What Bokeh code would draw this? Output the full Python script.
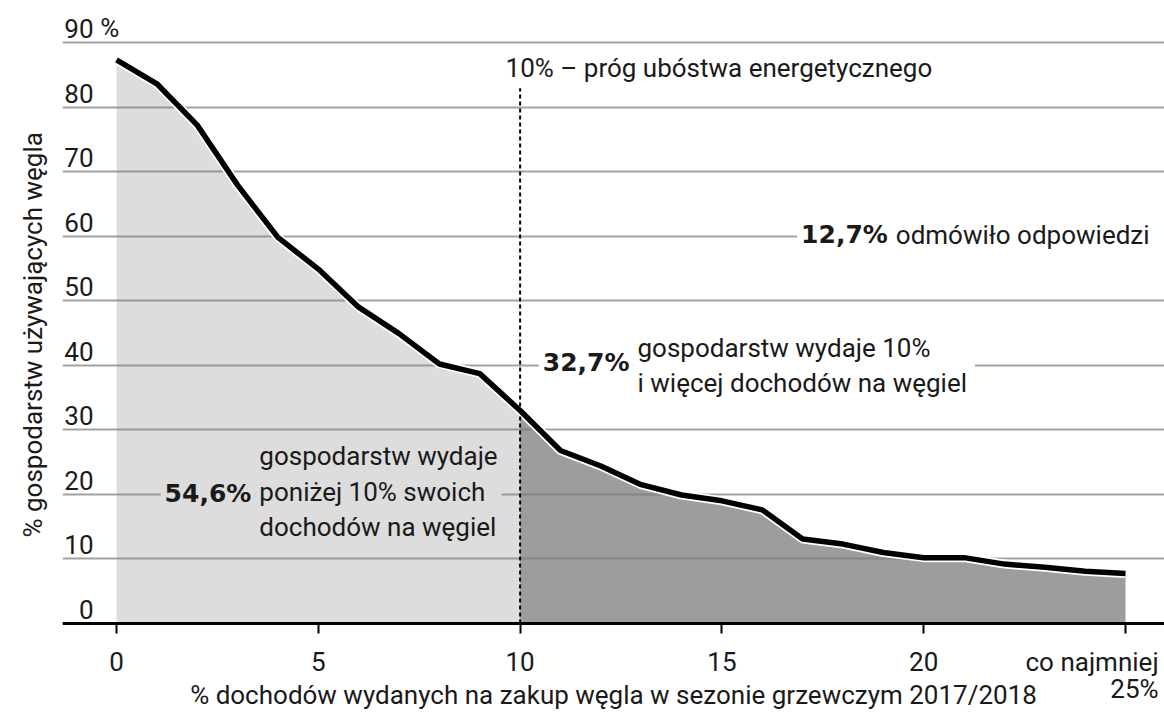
from bokeh.plotting import figure
from bokeh.models import Range1d, Label, FixedTicker, Grid, Title
from bokeh.core.properties import value
from bokeh.embed import file_html
from bokeh.resources import INLINE

# ---- data ----
share_of_income = list(range(26))  # % of income spent on coal (25 = "at least 25%")
households_pct = [87.3, 83.6, 77.2, 67.9, 59.8, 54.9, 49.0, 44.9, 40.2, 38.7,
                  33.0, 26.8, 24.4, 21.5, 19.9, 19.0, 17.6, 13.1, 12.3, 11.0,
                  10.2, 10.2, 9.2, 8.7, 8.1, 7.75]
threshold = 10
x_ticks = [0, 5, 10, 15, 20, 25]
x_tick_labels = ["0", "5", "10", "15", "20", ""]
last_tick_lines = ["co najmniej", "25%"]
y_ticks = [0, 10, 20, 30, 40, 50, 60, 70, 80, 90]
y_tick_labels = [str(v) for v in y_ticks]

FONT = "Roboto"
BOLD_FONT = "DejaVu Sans"
TXT = "#1a1a1a"
FS = "26px"

p = figure(width=1164, height=715, x_range=Range1d(-1.338, 25.966), y_range=Range1d(-14.25, 96.5),
           output_backend="svg", toolbar_location=None, y_axis_location=None,
           min_border_left=62, min_border_right=0, min_border_top=0, min_border_bottom=0)
p.outline_line_color = None
p.xgrid.visible = False
p.ygrid.visible = False

grid = Grid(dimension=1, ticker=FixedTicker(ticks=y_ticks), grid_line_color="#7a7a7a",
            grid_line_alpha=0.7, grid_line_width=2)
p.add_layout(grid)

below_i = [i for i, x in enumerate(share_of_income) if x <= threshold]
above_i = [i for i, x in enumerate(share_of_income) if x >= threshold]
p.varea(x=[share_of_income[i] for i in below_i], y1=0, y2=[households_pct[i] for i in below_i],
        fill_color="#dddddd", level="image")
p.varea(x=[share_of_income[i] for i in above_i], y1=0, y2=[households_pct[i] for i in above_i],
        fill_color="#9d9d9d", level="image")

p.line(share_of_income, households_pct, line_color="white", line_width=9, line_join="round")
p.line(share_of_income, households_pct, line_color="black", line_width=5.5, line_join="round")

p.segment(x0=[threshold], y0=[0], x1=[threshold], y1=[82.9], line_color="black",
          line_width=2, line_dash="4 3")

# x axis, drawn at y = 0 inside the frame
ax = p.xaxis[0]
ax.fixed_location = 0
ax.ticker = FixedTicker(ticks=x_ticks)
ax.major_label_overrides = {t: lab for t, lab in zip(x_ticks, x_tick_labels)}
ax.minor_tick_line_color = None
ax.axis_line_color = "black"
ax.axis_line_width = 3
ax.major_tick_line_color = "black"
ax.major_tick_line_width = 2
ax.major_tick_out = 10
ax.major_tick_in = 0
ax.major_label_standoff = 18
ax.major_label_text_font = FONT
ax.major_label_text_font_size = FS
ax.major_label_text_color = TXT
ax.axis_label = "% dochodów wydanych na zakup węgla w sezonie grzewczym 2017/2018"
ax.axis_label_text_font = FONT
ax.axis_label_text_font_size = FS
ax.axis_label_text_font_style = "normal"
ax.axis_label_text_color = TXT
ax.axis_label_standoff = 6

# last tick label, right-aligned at the end of the axis
p.add_layout(Label(x=25.82, y=-6.04, text=last_tick_lines[0], text_align="right",
                   text_baseline="middle", text_font=FONT, text_font_size=FS, text_color=TXT))
p.add_layout(Label(x=25.82, y=-10.07, text=last_tick_lines[1], text_align="right",
                   text_baseline="middle", text_font=FONT, text_font_size=FS, text_color=TXT))

# y axis title
p.add_layout(Title(text="% gospodarstw używających węgla", align="left", offset=178, standoff=30,
                   text_font=FONT, text_font_size=FS, text_font_style="normal",
                   text_color=TXT), "left")

# y tick labels (sit above their grid lines)
p.text(x=[-0.57] * len(y_ticks), y=[v + 2.17 for v in y_ticks], text=y_tick_labels,
       text_align="right", text_baseline="middle", text_font=value(FONT),
       text_font_size=value(FS), text_color=TXT)
p.add_layout(Label(x=-0.4, y=y_ticks[-1] + 2.17, text="%", text_align="left",
                   text_baseline="middle", text_font=FONT, text_font_size=FS,
                   text_color=TXT))

# annotations
p.add_layout(Label(x=9.64, y=85.97, text="10% – próg ubóstwa energetycznego", text_align="left",
                   text_baseline="middle", text_font=FONT, text_font_size=FS, text_color=TXT))

def note(x, y, text, align, bold=False, bg="white", pad_right=4):
    lab = Label(x=x, y=y, text=text, text_align=align, text_baseline="middle",
                text_font=BOLD_FONT if bold else FONT,
                text_font_size="25px" if bold else FS, text_color=TXT,
                text_font_style="bold" if bold else "normal",
                background_fill_color=bg,
                padding=dict(left=4, right=pad_right, top=4, bottom=4),
                text_line_height=1.18)
    p.add_layout(lab)
    return lab

note(19.21, 60.2, "12,7%", "right", bold=True)
note(19.21, 60.2, "odmówiło odpowiedzi", "left", pad_right=24)
note(12.81, 40.4, "32,7%", "right", bold=True)
note(12.81, 40.0, "gospodarstw wydaje 10%\ni więcej dochodów na węgiel", "left", pad_right=8)
note(3.44, 20.1, "54,6%", "right", bold=True, bg="#dddddd")
note(3.44, 20.4, "gospodarstw wydaje\nponiżej 10% swoich\ndochodów na węgiel", "left", bg="#dddddd")

open("out.html", "w").write(file_html(p, INLINE))
